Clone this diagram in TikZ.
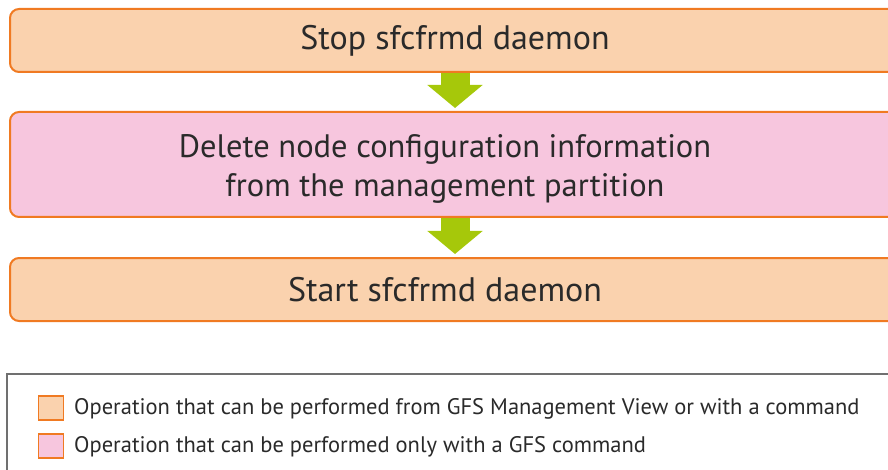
\documentclass[tikz,border=0pt]{standalone}
\usepackage{fontspec}
\setmainfont{PT Sans}
\usetikzlibrary{arrows.meta}
\definecolor{orfill}{HTML}{FAD2AE}
\definecolor{pkfill}{HTML}{F7C6DE}
\definecolor{orline}{HTML}{F07A22}
\definecolor{grarrow}{HTML}{A6C80A}
\definecolor{txt}{HTML}{2A2A2A}
\definecolor{legline}{HTML}{707070}
\tikzset{
  stepbox/.style={draw=orline, line width=2pt, rounded corners=9pt, minimum width=890pt, text=txt, font=\fontsize{34}{40}\selectfont, align=center, inner sep=0pt},
  flowarrow/.style={draw=grarrow, line width=29pt, -{Triangle[width=54pt,length=23pt]}, shorten >=3pt},
  legsq/.style={draw=orline, line width=1.6pt, minimum width=25pt, minimum height=24pt, inner sep=0pt},
  legtxt/.style={anchor=west, text=txt, font=\fontsize{22.5}{26}\selectfont, inner sep=0pt}
}
\begin{document}
\begin{tikzpicture}[x=1pt,y=-1pt]
\useasboundingbox (0,0) rectangle (888,470);
\node[stepbox, fill=orfill, minimum height=63pt] (b1) at (455,40.5) {Stop sfcfrmd daemon};
\node[stepbox, fill=pkfill, minimum height=105pt] (b2) at (455,164.5) {\fontsize{32.5}{40}\selectfont\raisebox{0pt}[\dimexpr\height+10pt][\depth]{\begin{tabular}{@{}c@{}}Delete node configuration information\\[-1pt]from the management partition\end{tabular}}\hspace*{20pt}};
\node[stepbox, fill=orfill, minimum height=63pt] (b3) at (455,289.5) {Start sfcfrmd daemon\hspace*{20pt}};
\draw[flowarrow] (b1.south) -- (b2.north);
\draw[flowarrow] (b2.south) -- (b3.north);
\node[draw=legline, line width=1.8pt, minimum width=893pt, minimum height=110pt, inner sep=0pt] (leg) at (453.5,429) {};
\node[legsq, fill=orfill] (s1) at (51,408) {};
\node[legsq, fill=pkfill] (s2) at (51,446) {};
\node[legtxt] (t1) at (74,409) {Operation that can be performed from GFS Management View or with a command};
\node[legtxt] (t2) at (74,447) {Operation that can be performed only with a GFS command};
\end{tikzpicture}
\end{document}
